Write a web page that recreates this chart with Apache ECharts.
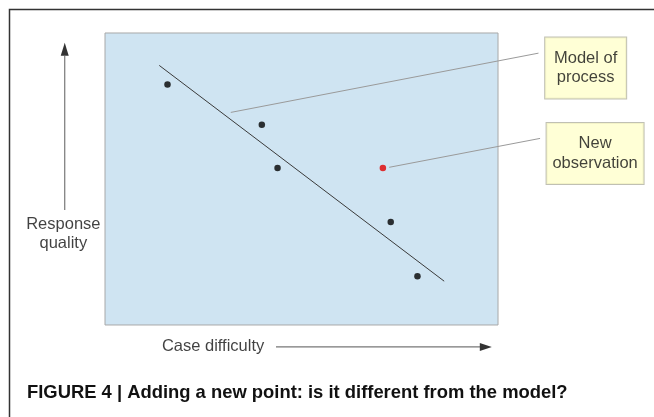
<!DOCTYPE html>
<html>
<head>
<meta charset="utf-8">
<script src="https://cdn.jsdelivr.net/npm/echarts@6/dist/echarts.min.js"></script>
<style>
  html, body { margin: 0; padding: 0; background: #fff; }
  #chart { width: 654px; height: 417px; }
</style>
</head>
<body>
<div id="chart"></div>
<script>
// observed cases (case difficulty vs response quality), panel spans 0-100 on both
var caseDifficulty = [15.9, 39.9, 43.9, 72.7, 79.5];
var responseQuality = [82.4, 68.6, 53.8, 35.3, 16.7];
var newObservation = [70.7, 53.8];

// fitted model of process
var modelLine = [[13.8, 88.9], [86.3, 15.0]];

// callout leader lines and their boxes
var modelCallout = [[32.0, 72.8], [110.3, 93.1]];
var newObsCallout = [[72.3, 54.0], [110.7, 63.9]];
var calloutBoxes = [
  { name: 'Model of\nprocess', value: [122.3, 88.0], width: 81 },
  { name: 'New\nobservation', value: [124.7, 58.7], width: 97 }
];

// axis arrows and their labels (outside the panel)
var yArrowLine = [[-10.25, 39.4], [-10.25, 92.1]];
var yArrowHead = [-10.25, 94.4];
var xArrowLine = [[43.5, -7.5], [95.4, -7.5]];
var xArrowHead = [96.9, -7.5];
var axisLabels = [
  { name: 'Response\nquality', value: [-10.6, 31.2] },
  { name: 'Case difficulty', value: [27.5, -7.4] }
];

var points = caseDifficulty.map(function (x, i) { return [x, responseQuality[i]]; });
var font = 'Liberation Sans, Arial, sans-serif';

var chart = echarts.init(document.getElementById('chart'));
var option = {
  animation: false,
  backgroundColor: '#fff',
  title: {
    text: 'FIGURE 4 | Adding a new point: is it different from the model?',
    left: 27,
    top: 384,
    padding: 0,
    textStyle: { fontFamily: font, fontSize: 18.4, fontWeight: 'bold', color: '#111', lineHeight: 18 }
  },
  graphic: [{
    // frame of the figure, only the top and left edges are visible
    type: 'rect',
    shape: { x: 9.5, y: 9.5, width: 700, height: 500 },
    style: { fill: null, stroke: '#333', lineWidth: 1.5 },
    silent: true
  }],
  // the grid covers the whole canvas; the blue panel is the 0-100 box
  grid: { left: 0, top: 0, right: 0, bottom: 0 },
  xAxis: { type: 'value', min: -26.72, max: 139.69, show: false },
  yAxis: { type: 'value', min: -31.51, max: 111.30, show: false },
  series: [
    {
      type: 'scatter', data: [], z: 1,
      markArea: {
        silent: true,
        itemStyle: { color: '#cfe4f2', borderColor: '#a8a8a8', borderWidth: 1 },
        data: [[{ coord: [0, 0] }, { coord: [100, 100] }]]
      }
    },
    {
      type: 'line', data: modelLine, showSymbol: false, z: 3,
      lineStyle: { color: '#3a3a3a', width: 1 }
    },
    {
      type: 'line', data: modelCallout, showSymbol: false, z: 3,
      lineStyle: { color: '#9a9a9a', width: 1 }
    },
    {
      type: 'line', data: newObsCallout, showSymbol: false, z: 3,
      lineStyle: { color: '#9a9a9a', width: 1 }
    },
    {
      type: 'scatter', data: points, symbolSize: 6.5, z: 4,
      itemStyle: { color: '#000' }
    },
    {
      type: 'scatter', data: [newObservation], symbolSize: 6.5, z: 4,
      itemStyle: { color: '#e00000' }
    },
    {
      type: 'line', data: yArrowLine, showSymbol: false, z: 3,
      lineStyle: { color: '#777', width: 1.2 }
    },
    {
      type: 'line', data: xArrowLine, showSymbol: false, z: 3,
      lineStyle: { color: '#777', width: 1.2 }
    },
    {
      type: 'scatter', data: [yArrowHead], symbol: 'triangle', symbolSize: [8, 13], z: 4,
      itemStyle: { color: '#000' }
    },
    {
      type: 'scatter', data: [xArrowHead], symbol: 'triangle', symbolSize: [8, 12], symbolRotate: -90, z: 4,
      itemStyle: { color: '#000' }
    },
    {
      type: 'scatter', data: axisLabels, symbolSize: 1, z: 4,
      itemStyle: { color: 'rgba(0,0,0,0)' },
      label: {
        show: true, position: 'inside', formatter: '{b}',
        fontFamily: font, fontSize: 16.5, lineHeight: 19, color: '#111', align: 'center', verticalAlign: 'middle'
      }
    },
    {
      type: 'scatter', data: calloutBoxes.map(function (b) { return { name: b.name, value: b.value, label: { width: b.width } }; }),
      symbolSize: 1, z: 5,
      itemStyle: { color: 'rgba(0,0,0,0)' },
      label: {
        show: true, position: 'inside', formatter: '{b}',
        fontFamily: font, fontSize: 16.5, lineHeight: 19.5, color: '#111', align: 'center', verticalAlign: 'middle',
        backgroundColor: '#ffffcc', borderColor: '#b0b0a0', borderWidth: 1, padding: [11, 0, 11, 0]
      }
    }
  ]
};
chart.setOption(option);
</script>
</body>
</html>
